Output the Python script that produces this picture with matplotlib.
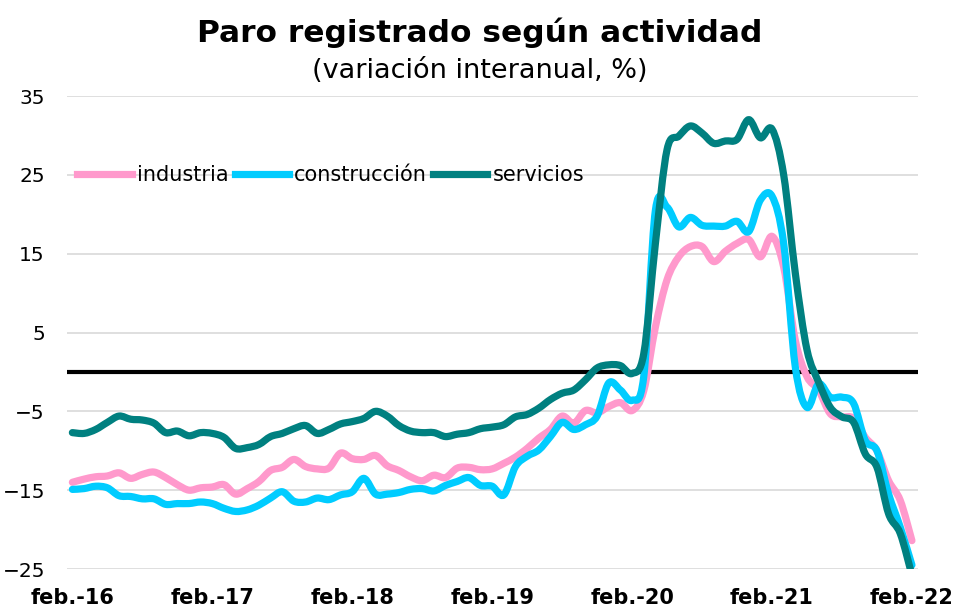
import matplotlib
matplotlib.use("Agg")
import matplotlib.pyplot as plt
import numpy as np
from matplotlib.lines import Line2D
from matplotlib.patches import PathPatch
from matplotlib.path import Path

TITLE = "Paro registrado según actividad"
SUBTITLE = "(variación interanual, %)"

# monthly, feb-2016 .. feb-2022
TICK_LABELS = ["feb.-16", "feb.-17", "feb.-18", "feb.-19", "feb.-20", "feb.-21", "feb.-22"]

industria = [
    -14.0, -13.6, -13.3, -13.2, -12.8, -13.5, -13.0, -12.7, -13.4, -14.3, -15.0, -14.7,
    -14.6, -14.3, -15.5, -14.8, -13.9, -12.5, -12.1, -11.1, -12.0, -12.3, -12.2, -10.3,
    -11.0, -11.1, -10.6, -11.9, -12.5, -13.3, -13.8, -13.1, -13.4, -12.2, -12.1, -12.4,
    -12.3, -11.6, -10.8, -9.7, -8.4, -7.3, -5.6, -6.5, -4.9, -5.2, -4.4, -3.9,
    -4.9, -2.4, 5.7, 11.7, 14.6, 15.9, 15.9, 14.0, 15.3, 16.3, 16.8, 14.6,
    17.2, 13.3, 4.0, -0.6, -2.3, -5.3, -5.7, -5.9, -8.3, -10.0, -13.8, -16.3,
    -21.4,
]

construccion = [
    -14.9, -14.8, -14.5, -14.7, -15.7, -15.8, -16.1, -16.1, -16.8, -16.7, -16.7, -16.5,
    -16.7, -17.3, -17.7, -17.5, -16.9, -16.0, -15.2, -16.4, -16.5, -16.0, -16.2, -15.6,
    -15.2, -13.5, -15.5, -15.5, -15.3, -14.9, -14.8, -15.1, -14.4, -13.9, -13.4, -14.4,
    -14.5, -15.6, -12.0, -10.7, -9.9, -8.2, -6.4, -7.3, -6.7, -5.6, -1.4, -2.3,
    -3.6, -0.6, 20.5, 20.9, 18.4, 19.6, 18.6, 18.5, 18.5, 19.1, 17.8, 21.8,
    22.3, 16.3, 0.6, -4.5, -1.5, -3.2, -3.2, -4.0, -8.7, -10.0, -15.5, -19.7,
    -24.5,
]

servicios = [
    -7.7, -7.8, -7.3, -6.4, -5.6, -6.0, -6.1, -6.5, -7.7, -7.5, -8.1, -7.7,
    -7.8, -8.3, -9.7, -9.6, -9.2, -8.2, -7.8, -7.2, -6.8, -7.8, -7.3, -6.6,
    -6.3, -5.9, -5.0, -5.6, -6.8, -7.5, -7.7, -7.7, -8.2, -7.9, -7.7, -7.2,
    -7.0, -6.7, -5.7, -5.4, -4.6, -3.5, -2.7, -2.3, -1.0, 0.5, 0.9, 0.8,
    -0.2, 2.3, 16.3, 28.2, 29.9, 31.2, 30.3, 29.0, 29.3, 29.5, 32.0, 29.7,
    30.8, 25.0, 12.5, 2.8, -1.3, -4.5, -5.7, -6.4, -10.4, -12.1, -18.0, -20.5,
    -25.8,
]

SERIES = [
    ("industria", industria, "#FF99CC"),
    ("construcción", construccion, "#00CCFF"),
    ("servicios", servicios, "#008080"),
]

LW = 5.2


def smooth_path(xs, ys):
    # Bezier through the points, like a spreadsheet "smoothed line"
    pts = np.column_stack([xs, ys]).astype(float)
    n = len(pts)
    verts = [pts[0]]
    codes = [Path.MOVETO]
    for i in range(n - 1):
        p0 = pts[max(i - 1, 0)]
        p1 = pts[i]
        p2 = pts[i + 1]
        p3 = pts[min(i + 2, n - 1)]
        c1 = p1 + (p2 - p0) / 6.0
        c2 = p2 - (p3 - p1) / 6.0
        verts += [c1, c2, p2]
        codes += [Path.CURVE4] * 3
    return Path(verts, codes)


def main():
    fig = plt.figure(figsize=(9.59, 6.10), dpi=100)
    ax = fig.add_axes([0.070, 0.0672, 0.887, 0.7754])

    x = np.arange(len(industria))
    handles = []
    for k, (name, vals, color) in enumerate(SERIES):
        patch = PathPatch(smooth_path(x, vals), facecolor="none", edgecolor=color,
                          lw=LW, joinstyle="round", capstyle="round",
                          transform=ax.transData, zorder=2 + k)
        ax.add_patch(patch)
        handles.append(Line2D([], [], color=color, lw=LW, label=name))

    ax.axhline(0, color="black", lw=3, zorder=1.5)

    ax.set_ylim(-25, 35)
    ax.set_xlim(-0.45, 72.5)
    ax.set_yticks(np.arange(-25, 36, 10))
    ax.set_xticks(np.arange(0, 73, 12))
    ax.set_xticklabels(TICK_LABELS, fontsize=15, fontweight="bold")
    ax.tick_params(axis="y", labelsize=14.5, length=0, pad=16)
    ax.tick_params(axis="x", length=0, pad=14)

    ax.grid(axis="y", color="#d9d9d9", lw=1.2)
    ax.set_axisbelow(True)
    for s in ax.spines.values():
        s.set_visible(False)

    ax.legend(handles=handles, loc="center left", bbox_to_anchor=(0.012, 0.833),
              ncol=3, frameon=False, fontsize=15, handlelength=2.6,
              handletextpad=0.25, columnspacing=0.3, borderpad=0,
              borderaxespad=0)

    fig.text(0.5, 1 - 33 / 610, TITLE, ha="center", va="center",
             fontsize=22.5, fontweight="bold")
    fig.text(0.5, 1 - 71 / 610, SUBTITLE, ha="center", va="center",
             fontsize=19.5)

    fig.savefig("out.png", dpi=100)


if __name__ == "__main__":
    main()
